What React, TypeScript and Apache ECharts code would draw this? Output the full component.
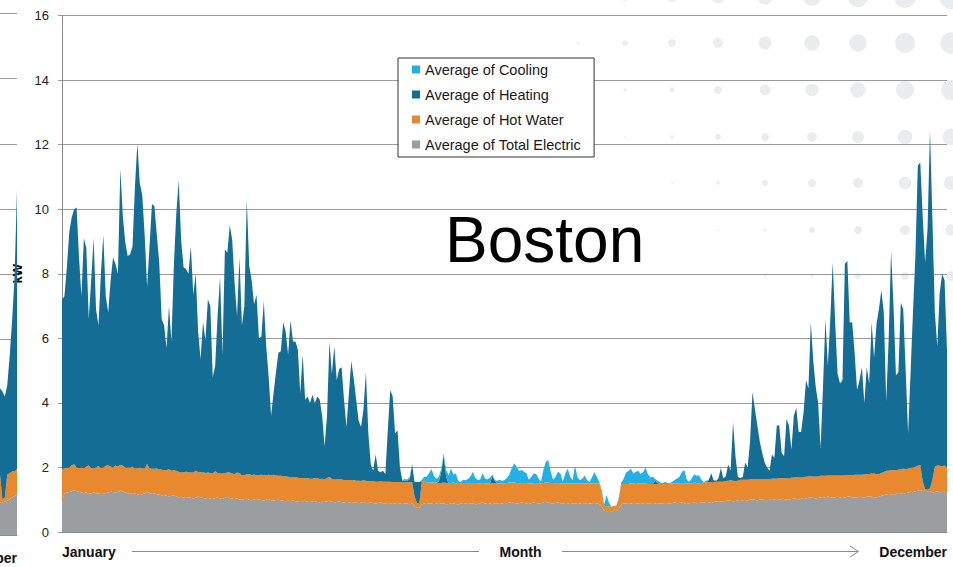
import { useEffect, useRef } from 'react';
import * as echarts from 'echarts';

// ---- labels ----
const seriesNames = {
  electric: 'Average of Total Electric',
  hotWater: 'Average of Hot Water',
  heating: 'Average of Heating',
  cooling: 'Average of Cooling',
};
const monthLabels = ['January', 'December'];
const xAxisTitle = 'Month';
const yAxisTitle = 'kW';
const cityTitle = 'Boston';
const yMin = 0;
const yMax = 16;
const yStep = 2;

// ---- Boston, daily averages (kW), Jan 1 .. Dec 31 ----
const totalElectric = [
  0.96, 1.20, 1.22, 1.24, 1.26, 1.30, 1.27, 1.24, 1.22, 1.20,
  1.23, 1.18, 1.19, 1.22, 1.20, 1.19, 1.21, 1.20, 1.20, 1.22,
  1.25, 1.24, 1.22, 1.24, 1.30, 1.26, 1.22, 1.20, 1.18, 1.21,
  1.19, 1.17, 1.15, 1.17, 1.20, 1.25, 1.21, 1.18, 1.19, 1.17,
  1.16, 1.14, 1.15, 1.12, 1.10, 1.12, 1.14, 1.10, 1.08, 1.09,
  1.07, 1.05, 1.08, 1.06, 1.04, 1.06, 1.10, 1.08, 1.05, 1.04,
  1.06, 1.03, 1.02, 1.05, 1.07, 1.04, 1.02, 1.06, 1.09, 1.05,
  1.03, 1.02, 1.04, 1.01, 0.99, 1.02, 1.03, 1.00, 0.98, 1.01,
  1.03, 1.00, 0.99, 0.97, 1.00, 1.02, 0.98, 0.97, 0.99, 1.00,
  0.98, 0.97, 0.95, 0.97, 0.96, 0.98, 0.95, 0.94, 0.96, 0.95,
  0.97, 0.94, 0.93, 0.95, 0.96, 0.93, 0.92, 0.94, 0.93, 0.95,
  0.97, 0.94, 0.92, 0.93, 0.95, 0.92, 0.91, 0.93, 0.92, 0.90,
  0.92, 0.91, 0.89, 0.91, 0.93, 0.90, 0.89, 0.91, 0.90, 0.88,
  0.90, 0.92, 0.89, 0.88, 0.90, 0.89, 0.87, 0.89, 0.90, 0.88,
  0.87, 0.89, 0.88, 0.86, 0.88, 0.80, 0.74, 0.75, 0.86, 0.88,
  0.87, 0.89, 0.88, 0.86, 0.88, 0.87, 0.89, 0.88, 0.86, 0.87,
  0.89, 0.88, 0.87, 0.86, 0.88, 0.90, 0.88, 0.87, 0.89, 0.88,
  0.86, 0.87, 0.89, 0.91, 0.88, 0.87, 0.88, 0.86, 0.88, 0.89,
  0.87, 0.88, 0.90, 0.89, 0.91, 0.93, 0.90, 0.88, 0.89, 0.91,
  0.90, 0.88, 0.87, 0.89, 0.91, 0.90, 0.88, 0.89, 0.92, 0.94,
  0.91, 0.89, 0.88, 0.90, 0.92, 0.89, 0.88, 0.90, 0.89, 0.87,
  0.88, 0.89, 0.87, 0.88, 0.90, 0.89, 0.87, 0.88, 0.89, 0.90,
  0.88, 0.87, 0.80, 0.66, 0.64, 0.65, 0.64, 0.66, 0.65, 0.72,
  0.86, 0.88, 0.89, 0.87, 0.88, 0.90, 0.89, 0.88, 0.87, 0.89,
  0.90, 0.88, 0.89, 0.90, 0.88, 0.87, 0.89, 0.88, 0.90, 0.89,
  0.88, 0.90, 0.91, 0.89, 0.90, 0.92, 0.88, 0.87, 0.89, 0.90,
  0.91, 0.89, 0.90, 0.92, 0.91, 0.93, 0.92, 0.90, 0.93, 0.95,
  0.94, 0.95, 0.93, 0.96, 0.98, 0.97, 0.95, 0.96, 0.98, 0.99,
  0.97, 0.96, 0.98, 1.00, 1.02, 0.99, 0.98, 1.00, 1.01, 0.99,
  0.98, 1.00, 1.02, 1.01, 0.99, 1.00, 1.03, 1.02, 1.00, 1.01,
  1.02, 1.04, 1.03, 1.01, 1.03, 1.05, 1.04, 1.06, 1.08, 1.05,
  1.04, 1.06, 1.07, 1.05, 1.08, 1.10, 1.07, 1.06, 1.08, 1.09,
  1.07, 1.05, 1.07, 1.09, 1.10, 1.08, 1.06, 1.07, 1.09, 1.08,
  1.07, 1.09, 1.11, 1.10, 1.08, 1.07, 1.09, 1.12, 1.14, 1.16,
  1.18, 1.17, 1.15, 1.18, 1.21, 1.19, 1.18, 1.20, 1.22, 1.25,
  1.23, 1.26, 1.28, 1.30, 1.27, 1.28, 1.26, 1.27, 1.22, 1.24,
  1.26, 1.23, 1.24, 1.25, 1.22,
];

const hotWater = [
  0.99, 0.77, 0.76, 0.76, 0.81, 0.80, 0.73, 0.74, 0.77, 0.77,
  0.80, 0.88, 0.79, 0.75, 0.80, 0.85, 0.77, 0.80, 0.85, 0.85,
  0.78, 0.76, 0.84, 0.78, 0.78, 0.79, 0.78, 0.79, 0.82, 0.81,
  0.78, 0.80, 0.85, 0.80, 0.76, 0.86, 0.76, 0.78, 0.77, 0.80,
  0.78, 0.79, 0.76, 0.80, 0.84, 0.78, 0.77, 0.80, 0.79, 0.75,
  0.78, 0.82, 0.77, 0.78, 0.80, 0.84, 0.76, 0.77, 0.80, 0.79,
  0.78, 0.80, 0.79, 0.83, 0.76, 0.77, 0.79, 0.75, 0.76, 0.79,
  0.78, 0.77, 0.80, 0.81, 0.77, 0.74, 0.76, 0.79, 0.78, 0.77,
  0.73, 0.76, 0.78, 0.79, 0.76, 0.75, 0.77, 0.80, 0.76, 0.74,
  0.76, 0.75, 0.78, 0.74, 0.73, 0.72, 0.75, 0.74, 0.71, 0.72,
  0.70, 0.73, 0.72, 0.70, 0.71, 0.74, 0.72, 0.71, 0.70, 0.72,
  0.74, 0.70, 0.71, 0.70, 0.69, 0.71, 0.70, 0.68, 0.69, 0.70,
  0.69, 0.68, 0.70, 0.67, 0.68, 0.69, 0.68, 0.66, 0.67, 0.68,
  0.66, 0.65, 0.67, 0.68, 0.66, 0.67, 0.68, 0.66, 0.65, 0.67,
  0.66, 0.65, 0.67, 0.68, 0.66, 0.30, 0.16, 0.15, 0.70, 0.68,
  0.66, 0.64, 0.66, 0.67, 0.65, 0.64, 0.63, 0.65, 0.66, 0.64,
  0.63, 0.65, 0.64, 0.66, 0.63, 0.62, 0.64, 0.65, 0.63, 0.64,
  0.66, 0.64, 0.62, 0.61, 0.63, 0.64, 0.62, 0.65, 0.63, 0.62,
  0.63, 0.62, 0.61, 0.63, 0.62, 0.60, 0.63, 0.64, 0.62, 0.61,
  0.62, 0.64, 0.63, 0.61, 0.60, 0.62, 0.63, 0.62, 0.60, 0.59,
  0.62, 0.63, 0.64, 0.61, 0.60, 0.62, 0.63, 0.61, 0.62, 0.64,
  0.62, 0.61, 0.63, 0.62, 0.60, 0.61, 0.63, 0.62, 0.61, 0.60,
  0.62, 0.63, 0.45, 0.15, 0.16, 0.15, 0.14, 0.15, 0.16, 0.30,
  0.62, 0.61, 0.60, 0.62, 0.63, 0.61, 0.60, 0.62, 0.63, 0.61,
  0.60, 0.61, 0.60, 0.59, 0.61, 0.62, 0.60, 0.61, 0.59, 0.60,
  0.62, 0.61, 0.60, 0.62, 0.61, 0.60, 0.63, 0.64, 0.62, 0.61,
  0.62, 0.63, 0.61, 0.60, 0.62, 0.61, 0.63, 0.64, 0.62, 0.61,
  0.62, 0.61, 0.63, 0.62, 0.61, 0.63, 0.64, 0.62, 0.61, 0.63,
  0.65, 0.66, 0.64, 0.63, 0.62, 0.65, 0.66, 0.64, 0.63, 0.65,
  0.66, 0.64, 0.63, 0.65, 0.66, 0.67, 0.64, 0.65, 0.66, 0.65,
  0.66, 0.65, 0.67, 0.68, 0.66, 0.65, 0.67, 0.66, 0.65, 0.67,
  0.68, 0.66, 0.67, 0.69, 0.66, 0.65, 0.68, 0.69, 0.67, 0.66,
  0.68, 0.70, 0.69, 0.67, 0.66, 0.68, 0.71, 0.70, 0.68, 0.69,
  0.71, 0.70, 0.69, 0.71, 0.73, 0.72, 0.70, 0.71, 0.72, 0.74,
  0.72, 0.75, 0.76, 0.73, 0.72, 0.76, 0.78, 0.75, 0.74, 0.73,
  0.77, 0.76, 0.77, 0.78, 0.30, 0.05, 0.05, 0.08, 0.40, 0.78,
  0.80, 0.82, 0.80, 0.81, 0.78,
];

const heating = [
  5.25, 5.33, 6.22, 7.30, 7.68, 7.90, 8.05, 6.52, 5.31, 7.13,
  6.77, 4.54, 5.82, 7.13, 4.90, 4.36, 6.02, 7.20, 5.25, 4.73,
  5.77, 6.50, 6.24, 5.98, 9.17, 7.75, 7.00, 6.56, 6.60, 6.83,
  8.73, 10.08, 8.80, 8.48, 7.24, 5.49, 6.88, 8.19, 8.14, 7.23,
  6.41, 4.67, 4.49, 3.78, 5.06, 4.00, 6.34, 7.95, 9.03, 7.21,
  6.35, 6.28, 6.15, 7.01, 5.51, 6.10, 4.34, 3.50, 4.65, 4.12,
  5.36, 5.17, 2.99, 3.27, 4.87, 6.09, 3.69, 6.94, 6.80, 7.66,
  7.24, 5.91, 4.86, 6.68, 4.64, 5.24, 8.51, 6.46, 6.04, 5.27,
  5.59, 4.24, 4.28, 5.39, 3.99, 3.03, 1.85, 2.53, 3.20, 3.81,
  3.86, 4.78, 4.47, 3.79, 4.86, 4.20, 4.20, 3.97, 2.63, 3.83,
  2.43, 2.53, 2.35, 2.60, 2.33, 2.53, 2.46, 1.95, 1.02, 1.93,
  4.19, 3.26, 4.12, 3.07, 3.41, 3.47, 2.49, 1.64, 2.69, 3.70,
  3.14, 2.51, 1.86, 1.67, 2.19, 3.36, 1.48, 0.53, 0.33, 0.84,
  0.34, 0.28, 0.34, 0.24, 1.59, 2.84, 2.65, 1.50, 1.60, 0.45,
  0.05, 0.05, 0.03, 0.10, 0.55, 0.45, 0.65, 0.65, 0, 0,
  0, 0, 0, 0, 0, 0.05, 0.35, 0.85, 0.20, 0,
  0, 0, 0, 0, 0, 0, 0, 0, 0, 0,
  0, 0, 0, 0, 0, 0, 0, 0.22, 0.08, 0,
  0, 0, 0, 0, 0, 0, 0, 0, 0, 0,
  0, 0, 0, 0, 0, 0, 0, 0, 0, 0,
  0, 0, 0, 0, 0, 0, 0, 0, 0, 0,
  0, 0, 0, 0, 0, 0, 0, 0, 0, 0,
  0, 0, 0, 0, 0, 0, 0, 0, 0, 0,
  0, 0, 0, 0, 0, 0, 0, 0, 0, 0,
  0, 0, 0, 0, 0.10, 0.02, 0, 0, 0, 0,
  0, 0, 0, 0, 0, 0, 0, 0, 0, 0,
  0, 0, 0, 0, 0, 0, 0.05, 0.28, 0.05, 0.02,
  0.10, 0.42, 0.10, 0.15, 0.50, 0.30, 1.82, 0.76, 0.11, 0.05,
  0.08, 0.53, 0.38, 1.17, 2.70, 2.16, 1.66, 1.16, 0.81, 0.51,
  0.36, 0.26, 0.75, 0.64, 1.65, 1.63, 0.78, 0.68, 1.84, 1.64,
  0.87, 1.91, 2.15, 1.41, 1.41, 2.00, 2.99, 2.73, 4.77, 3.58,
  2.78, 2.28, 0.86, 2.76, 4.86, 3.40, 4.85, 6.60, 4.75, 3.15,
  2.85, 2.95, 6.54, 6.64, 4.73, 4.74, 3.78, 2.63, 2.92, 3.33,
  2.22, 3.31, 2.80, 4.69, 3.59, 4.66, 5.11, 5.67, 4.94, 2.15,
  4.05, 6.78, 5.09, 2.94, 3.02, 5.15, 4.94, 3.05, 1.09, 2.92,
  4.80, 6.53, 9.30, 9.37, 8.23, 7.02, 8.09, 11.10, 8.08, 4.78,
  3.69, 5.35, 5.96, 5.74, 3.60,
];

const cooling = [
  0, 0, 0, 0, 0, 0, 0, 0, 0, 0,
  0, 0, 0, 0, 0, 0, 0, 0, 0, 0,
  0, 0, 0, 0, 0, 0, 0, 0, 0, 0,
  0, 0, 0, 0, 0, 0, 0, 0, 0, 0,
  0, 0, 0, 0, 0, 0, 0, 0, 0, 0,
  0, 0, 0, 0, 0, 0, 0, 0, 0, 0,
  0, 0, 0, 0, 0, 0, 0, 0, 0, 0,
  0, 0, 0, 0, 0, 0, 0, 0, 0, 0,
  0, 0, 0, 0, 0, 0, 0, 0, 0, 0,
  0, 0, 0, 0, 0, 0, 0, 0, 0, 0,
  0, 0, 0, 0, 0, 0, 0, 0, 0, 0,
  0, 0, 0, 0, 0, 0, 0, 0, 0, 0,
  0, 0, 0, 0, 0, 0, 0, 0, 0, 0,
  0, 0, 0, 0, 0, 0, 0, 0, 0, 0,
  0.03, 0.05, 0.05, 0.06, 0.02, 0, 0, 0, 0.05, 0.15,
  0.18, 0.30, 0.40, 0.20, 0.12, 0.15, 0.10, 0.05, 0.20, 0.25,
  0.45, 0.25, 0.30, 0.05, 0.05, 0.10, 0.08, 0.12, 0.20, 0.35,
  0.15, 0.10, 0.12, 0.30, 0.15, 0.12, 0.18, 0.05, 0.02, 0.08,
  0.12, 0.08, 0.10, 0.15, 0.25, 0.45, 0.60, 0.50, 0.38, 0.40,
  0.35, 0.30, 0.12, 0.20, 0.30, 0.28, 0.15, 0.05, 0.40, 0.65,
  0.70, 0.35, 0.10, 0.20, 0.35, 0.30, 0.05, 0.30, 0.45, 0.20,
  0.10, 0.55, 0.20, 0.10, 0.15, 0.25, 0.10, 0.05, 0.20, 0.35,
  0.20, 0.05, 0.05, 0.05, 0.35, 0.10, 0, 0, 0, 0.05,
  0.05, 0.15, 0.35, 0.40, 0.45, 0.30, 0.38, 0.40, 0.30, 0.35,
  0.50, 0.30, 0.20, 0.22, 0.05, 0.08, 0.05, 0.02, 0.06, 0.03,
  0.02, 0.05, 0.10, 0.15, 0.20, 0.35, 0.40, 0.10, 0.05, 0.15,
  0.25, 0.22, 0.25, 0.10, 0.02, 0.05, 0.02, 0, 0, 0.02,
  0, 0, 0, 0, 0, 0, 0, 0, 0, 0,
  0, 0, 0, 0, 0, 0, 0, 0, 0, 0,
  0, 0, 0, 0, 0, 0, 0, 0, 0, 0,
  0, 0, 0, 0, 0, 0, 0, 0, 0, 0,
  0, 0, 0, 0, 0, 0, 0, 0, 0, 0,
  0, 0, 0, 0, 0, 0, 0, 0, 0, 0,
  0, 0, 0, 0, 0, 0, 0, 0, 0, 0,
  0, 0, 0, 0, 0, 0, 0, 0, 0, 0,
  0, 0, 0, 0, 0, 0, 0, 0, 0, 0,
  0, 0, 0, 0, 0,
];

// ---- last week of December from the neighbouring panel on the left ----
const prevTotalElectric = [1.0, 1.0, 1.03, 1.05, 1.1, 1.15, 1.2, 1.25];
const prevHotWater = [0.85, 0.1, 0.12, 0.8, 0.8, 0.8, 0.77, 0.77];
const prevHeating = [2.65, 3.3, 3.1, 2.75, 3.6, 4.65, 5.93, 8.58];
const prevCooling = [0, 0, 0, 0, 0, 0, 0, 0];

// ---- decorative dot field (top right), radius per row/column, 0 = no dot ----
const dotCols = [531, 578, 625, 672, 718, 765, 812, 858, 905, 951];
const dotRows = [-3, 43, 90, 137, 183, 230, 276];
const dotRadii = [
  [1, 2.5, 4, 5.2, 6.3, 7.6, 8.8, 10, 11, 12],
  [0, 1.3, 3, 4, 5, 6.5, 7.7, 8.7, 10, 10.7],
  [0, 0, 1.7, 2.7, 4, 5.3, 6.3, 7.7, 9, 10],
  [0, 0, 1, 1.7, 3, 4, 5, 6, 7.3, 8.3],
  [0, 0, 0, 1, 1.7, 3, 4, 5, 6.3, 7],
  [0, 0, 0, 0, 1, 1.7, 3, 4, 5, 5.7],
  [0, 0, 0, 0, 0, 1, 1.5, 3, 4, 5],
];

const COLORS = {
  electric: '#9b9ea1',
  hotWater: '#e8892f',
  heating: '#146d94',
  cooling: '#22b0e6',
};

const FONT = "'Liberation Sans', Arial, Helvetica, sans-serif";
const GRID_COLOR = '#9a9a9a';
const AXIS_COLOR = '#8a8a8a';

function areaSeries(name: string, color: string, data: number[], axisIndex: number, stack: string) {
  return {
    type: 'line',
    name,
    data,
    xAxisIndex: axisIndex,
    yAxisIndex: axisIndex,
    stack,
    symbol: 'none',
    showSymbol: false,
    silent: true,
    lineStyle: { width: 0, color },
    itemStyle: { color },
    areaStyle: { color, opacity: 1 },
    emphasis: { disabled: true },
  };
}

function buildOption() {
  const days = heating.map((_, i) => String(i));
  const prevDays = prevHeating.map((_, i) => 'p' + i);
  const lastDay = days.length - 1;
  const prevLast = prevDays.length - 1;

  const dots: any[] = [];
  dotRows.forEach((cy, r) => {
    dotCols.forEach((cx, c) => {
      const rad = dotRadii[r][c];
      if (rad > 0) {
        dots.push({
          type: 'circle',
          z: -10,
          silent: true,
          shape: { cx, cy, r: rad },
          style: { fill: '#ebeced' },
        });
      }
    });
  });

  const boldLabel = { fontWeight: 'bold', fontSize: 14, color: '#111', fontFamily: FONT };

  return {
    animation: false,
    backgroundColor: '#ffffff',
    textStyle: { fontFamily: FONT },
    grid: [
      { left: 62, right: 6, top: 15.5, bottom: 35, outerBoundsMode: 'none', containLabel: false },
      { left: 0, width: 17, top: 13.5, bottom: 32, outerBoundsMode: 'none', containLabel: false },
    ],
    legend: {
      data: [seriesNames.cooling, seriesNames.heating, seriesNames.hotWater, seriesNames.electric],
      orient: 'vertical',
      left: 398,
      top: 58,
      icon: 'rect',
      itemWidth: 8,
      itemHeight: 8,
      itemGap: 10,
      padding: [4, 13, 5, 14],
      backgroundColor: '#ffffff',
      borderColor: '#333333',
      borderWidth: 1,
      selectedMode: false,
      textStyle: { fontSize: 14.5, color: '#1a1a1a', fontFamily: FONT },
    },
    xAxis: [
      {
        gridIndex: 0,
        type: 'category',
        data: days,
        boundaryGap: false,
        axisLine: { show: true, lineStyle: { color: AXIS_COLOR } },
        axisTick: { show: false },
        splitLine: { show: false },
        axisLabel: {
          ...boldLabel,
          margin: 13,
          interval: (i: number) => i === 0 || i === lastDay,
          formatter: (_v: string, i: number) => (i === 0 ? monthLabels[0] : monthLabels[1]),
          alignMinLabel: 'left',
          alignMaxLabel: 'right',
        },
      },
      {
        gridIndex: 1,
        type: 'category',
        data: prevDays,
        boundaryGap: false,
        axisLine: { show: true, lineStyle: { color: AXIS_COLOR } },
        axisTick: { show: false },
        splitLine: { show: false },
        axisLabel: {
          ...boldLabel,
          margin: 16,
          interval: (i: number) => i === prevLast,
          formatter: () => monthLabels[1],
          align: 'right',
          alignMinLabel: 'right',
          alignMaxLabel: 'right',
        },
      },
    ],
    yAxis: [
      {
        gridIndex: 0,
        type: 'value',
        min: yMin,
        max: yMax,
        interval: yStep,
        name: yAxisTitle,
        nameLocation: 'middle',
        nameGap: 30,
        nameRotate: 90,
        nameTextStyle: { fontWeight: 'bold', fontSize: 13, color: '#000', fontFamily: FONT },
        axisLine: { show: true, lineStyle: { color: AXIS_COLOR } },
        axisTick: { show: true, length: 4, lineStyle: { color: GRID_COLOR } },
        axisLabel: { fontSize: 13, color: '#222', margin: 13, fontFamily: FONT },
        splitLine: { show: true, lineStyle: { color: GRID_COLOR, width: 1 } },
      },
      {
        gridIndex: 1,
        type: 'value',
        min: yMin,
        max: yMax,
        interval: yStep,
        axisLine: { show: false },
        axisTick: { show: false },
        axisLabel: { show: false },
        splitLine: { show: true, lineStyle: { color: GRID_COLOR, width: 1 } },
      },
    ],
    series: [
      areaSeries(seriesNames.electric, COLORS.electric, totalElectric, 0, 'boston'),
      areaSeries(seriesNames.hotWater, COLORS.hotWater, hotWater, 0, 'boston'),
      areaSeries(seriesNames.heating, COLORS.heating, heating, 0, 'boston'),
      areaSeries(seriesNames.cooling, COLORS.cooling, cooling, 0, 'boston'),
      areaSeries(seriesNames.electric, COLORS.electric, prevTotalElectric, 1, 'prev'),
      areaSeries(seriesNames.hotWater, COLORS.hotWater, prevHotWater, 1, 'prev'),
      areaSeries(seriesNames.heating, COLORS.heating, prevHeating, 1, 'prev'),
      areaSeries(seriesNames.cooling, COLORS.cooling, prevCooling, 1, 'prev'),
    ],
    graphic: [
      ...dots,
      {
        type: 'text',
        silent: true,
        z: 5,
        x: 445,
        y: 240,
        style: {
          text: cityTitle,
          fontSize: 64,
          fontFamily: FONT,
          fill: '#000',
          verticalAlign: 'middle',
          align: 'left',
        },
      },
      {
        type: 'text',
        silent: true,
        x: 520.5,
        y: 552,
        style: {
          text: xAxisTitle,
          fontSize: 14,
          fontWeight: 'bold',
          fontFamily: FONT,
          fill: '#111',
          align: 'center',
          verticalAlign: 'middle',
        },
      },
      {
        type: 'line',
        silent: true,
        shape: { x1: 132, y1: 551.5, x2: 479, y2: 551.5 },
        style: { stroke: AXIS_COLOR, lineWidth: 1 },
      },
      {
        type: 'line',
        silent: true,
        shape: { x1: 562, y1: 551.5, x2: 858, y2: 551.5 },
        style: { stroke: AXIS_COLOR, lineWidth: 1 },
      },
      {
        type: 'polyline',
        silent: true,
        shape: { points: [[850, 546], [858.5, 551.5], [850, 557]] },
        style: { stroke: AXIS_COLOR, lineWidth: 1, fill: 'none' },
      },
    ],
  };
}

export default function App() {
  const ref = useRef<HTMLDivElement>(null);

  useEffect(() => {
    if (!ref.current) return;
    const chart = echarts.init(ref.current, undefined, { renderer: 'svg' });
    chart.setOption(buildOption() as any);
    return () => chart.dispose();
  }, []);

  return (
    <div
      ref={ref}
      style={{ position: 'fixed', left: 0, top: 0, width: 953, height: 567 }}
    />
  );
}
